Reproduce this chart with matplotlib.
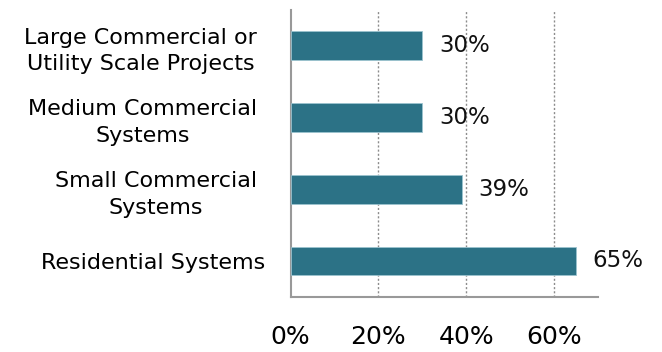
import matplotlib
matplotlib.use('Agg')
import matplotlib.pyplot as plt
from matplotlib.transforms import ScaledTranslation

categories = ['Residential Systems',
              'Small Commercial\nSystems',
              'Medium Commercial\nSystems',
              'Large Commercial or\nUtility Scale Projects']
shares = [65, 39, 30, 30]
xticks = [0, 20, 40, 60]
xtick_labels = ['0%', '20%', '40%', '60%']

BAR_COLOR = '#2c7286'
GRID_COLOR = '#8c8c8c'

plt.rcParams['font.family'] = ['DejaVu Sans']

fig = plt.figure(figsize=(6.62, 3.52), dpi=100)
ax = fig.add_axes([0.439, 0.157, 0.464, 0.815])

ypos = list(range(len(categories)))
ax.barh(ypos, shares, height=0.4, color=BAR_COLOR,
        edgecolor='#9cc3cf', linewidth=0.6, zorder=3)

for y, v in zip(ypos, shares):
    ax.annotate(f'{v}%', xy=(v, y), xytext=(12, 0), textcoords='offset points',
                ha='left', va='center', fontsize=16.5, color='#111111')

ax.set_xlim(0, 70)
ax.set_ylim(-0.5, 3.5)
ax.set_xticks(xticks)
ax.set_xticklabels(xtick_labels, fontsize=18)
ax.set_yticks(ypos)
ax.set_yticklabels(categories, fontsize=16, multialignment='center',
                   linespacing=1.4)
ax.tick_params(axis='x', length=0, pad=20)
ax.tick_params(axis='y', length=0, pad=24)

# the single-line label sits a little closer to the axis
res_label = ax.get_yticklabels()[0]
res_label.set_transform(res_label.get_transform() +
                        ScaledTranslation(6 / 72, 0, fig.dpi_scale_trans))

ax.grid(axis='x', linestyle=(0, (1.5, 1.5)), color=GRID_COLOR,
        linewidth=1, zorder=0)
ax.xaxis.get_gridlines()[0].set_visible(False)

for side in ['top', 'right']:
    ax.spines[side].set_visible(False)
for side in ['left', 'bottom']:
    ax.spines[side].set_color('#999999')
    ax.spines[side].set_linewidth(1.5)

fig.savefig('out.png', dpi=100)
